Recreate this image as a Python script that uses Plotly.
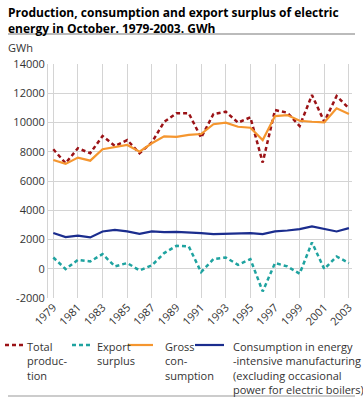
import plotly.graph_objects as go

years = list(range(1979, 2004))
total_production = [8170, 7215, 8240, 7900, 9080, 8400, 8800, 7900, 8640, 10050, 10630, 10630, 8960, 10580, 10740, 9990, 10350, 7260, 10850, 10670, 9760, 11880, 10050, 11810, 10970]
export_surplus = [770, -20, 610, 500, 1000, 160, 390, -110, 230, 1070, 1570, 1520, -230, 660, 770, 270, 660, -1550, 390, 160, -340, 1800, -20, 840, 390]
gross_consumption = [7440, 7170, 7600, 7390, 8170, 8300, 8460, 8000, 8580, 9050, 9020, 9150, 9210, 9880, 9990, 9710, 9640, 8800, 10440, 10510, 10120, 10050, 10010, 10970, 10580]
energy_intensive = [2440, 2160, 2270, 2140, 2550, 2660, 2550, 2390, 2550, 2500, 2525, 2500, 2440, 2370, 2400, 2420, 2440, 2370, 2550, 2615, 2710, 2890, 2730, 2550, 2780]
x_ticks = list(range(1979, 2004, 2))
y_ticks = list(range(-2000, 14001, 2000))
legend_names = ["Total<br>produc-<br>tion", "Export<br>surplus", "Gross<br>con-<br>sumption",
                "Consumption in energy<br>-intensive manufacturing<br>(excluding occasional<br>power for electric boilers)"]

W, H = 363, 397
L, R, T, B = 48, 11, 64, 99
pw, ph = W - L - R, H - T - B

def px(X):
    return (X - L) / pw

def py(Y):
    return (H - B - Y) / ph

styles = [("#9B1216", "4px,3px", 2.5), ("#1FA3A0", "4px,3px", 2.5),
          ("#F5962F", "solid", 2.2), ("#1B2D8E", "solid", 2.2)]
data = [total_production, export_surplus, gross_consumption, energy_intensive]
# legend layout: (sample x0, sample x1, text x)
leg_pos = [(5, 24, 25), (72, 92, 95), (128, 153, 163), (195, 224, 231)]

fig = go.Figure()
for name, vals, (col, dash, w) in zip(legend_names, data, styles):
    fig.add_trace(go.Scatter(x=years, y=vals, mode="lines", name=name,
                             line=dict(color=col, dash=dash, width=w), showlegend=False))

fig.update_layout(
    width=W, height=H,
    margin=dict(l=L, r=R, t=T, b=B, pad=0),
    paper_bgcolor="white", plot_bgcolor="white",
    font=dict(family="Open Sans", size=11, color="#333333"),
    showlegend=False,
    xaxis=dict(range=[1978.57, 2003.25], tickvals=x_ticks, ticktext=[str(v) for v in x_ticks],
               tickangle=-45, showgrid=True, gridcolor="#d4d4d4", gridwidth=1, automargin=False,
               showline=False, zeroline=False, ticks="", tickfont=dict(size=11, color="#333333")),
    xaxis2=dict(range=[1978.57, 2003.25], overlaying="x", anchor="free", position=0.125,
                side="bottom", tickmode="linear", tick0=1979, dtick=1, ticks="inside",
                ticklen=4, tickcolor="#cccccc", showticklabels=False, showgrid=False,
                showline=False, zeroline=False, automargin=False),
    yaxis=dict(range=[-2000, 14000], tickvals=y_ticks, ticktext=[str(v) for v in y_ticks],
               showgrid=True, gridcolor="#d4d4d4", automargin=False,
               gridwidth=1, zeroline=False, showline=True, linecolor="#d4d4d4", linewidth=1,
               ticks="", tickfont=dict(size=11, color="#333333")),
)

fig.add_annotation(xref="paper", yref="paper", x=px(6), y=py(2), xanchor="left", yanchor="top",
                   text="<b>Production, consumption and export surplus of electric<br>energy in October. 1979-2003. GWh</b>",
                   showarrow=False, align="left", font=dict(size=12, color="#000000"))
fig.add_annotation(xref="paper", yref="paper", x=px(6), y=py(47), xanchor="left", yanchor="middle",
                   text="GWh", showarrow=False, font=dict(size=11, color="#333333"))
fig.add_shape(type="line", xref="paper", yref="paper", x0=px(8), x1=px(355), y0=py(34), y1=py(34),
              line=dict(color="#bbbbbb", width=2))
fig.add_shape(type="line", xref="paper", yref="paper", x0=px(8), x1=px(355), y0=py(396), y1=py(396),
              line=dict(color="#999999", width=1))

for name, (col, dash, w), (sx0, sx1, tx) in zip(legend_names, styles, leg_pos):
    fig.add_shape(type="line", xref="paper", yref="paper", x0=px(sx0), x1=px(sx1),
                  y0=py(345), y1=py(345), line=dict(color=col, dash=dash, width=w))
    fig.add_annotation(xref="paper", yref="paper", x=px(tx), y=py(337), xanchor="left", yanchor="top",
                       text=name, showarrow=False, align="left",
                       font=dict(size=11, color="#333333"))

fig.write_html("out.html", config={"displayModeBar": False},
               post_script="document.body.style.margin='0';document.body.style.padding='0';")
